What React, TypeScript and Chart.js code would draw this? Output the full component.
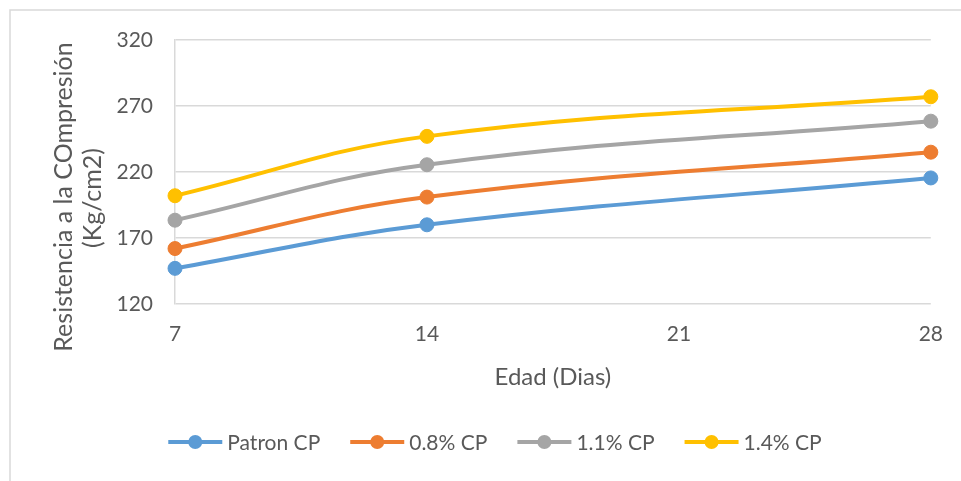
import React, { useEffect, useRef } from "react";
import { Chart, registerables } from "chart.js";

Chart.register(...registerables);

// Age of the specimens (days) and compressive strength per mix
const days = [7, 14, 28];
const patronCP = [147, 180, 215.5];
const cp08 = [162, 201, 235];
const cp11 = [183.5, 225.5, 258.5];
const cp14 = [202, 247, 277];

const seriesNames = ["Patron CP", "0.8% CP", "1.1% CP", "1.4% CP"];
const seriesColors = ["#5B9BD5", "#ED7D31", "#A5A5A5", "#FFC000"];
const seriesValues = [patronCP, cp08, cp11, cp14];

const xTitle = "Edad (Dias)";
const yTitleLines = ["Resistencia a la COmpresión", "(Kg/cm2)"];

const FONT = "Lato, 'Open Sans', sans-serif";
const TEXT = "#595959";
const GRID = "#D9D9D9";

// Frame around the chart object (top and left edges)
const framePlugin = {
  id: "frame",
  beforeDraw(chart: any) {
    const { ctx, width, height } = chart;
    ctx.save();
    ctx.fillStyle = "#ffffff";
    ctx.fillRect(0, 0, width, height);
    ctx.strokeStyle = GRID;
    ctx.lineWidth = 1.5;
    ctx.beginPath();
    ctx.moveTo(10, height);
    ctx.lineTo(10, 10);
    ctx.lineTo(width, 10);
    ctx.stroke();
    ctx.restore();
  },
};

// Two-line rotated value-axis title
const yTitlePlugin = {
  id: "yTitle",
  afterDraw(chart: any) {
    const { ctx } = chart;
    ctx.save();
    ctx.fillStyle = TEXT;
    ctx.font = `25px ${FONT}`;
    ctx.textAlign = "center";
    ctx.textBaseline = "middle";
    const pos = [
      { x: 64, y: 197 },
      { x: 93, y: 198 },
    ];
    yTitleLines.forEach((line, i) => {
      ctx.save();
      ctx.translate(pos[i].x, pos[i].y);
      ctx.rotate(-Math.PI / 2);
      ctx.fillText(line, 0, 0);
      ctx.restore();
    });
    ctx.restore();
  },
};

// Legend row: line-with-marker swatch followed by the series name
const legendPlugin = {
  id: "lineLegend",
  afterDraw(chart: any) {
    const { ctx } = chart;
    const swatch = 54;
    const gapText = 5;
    const gapItem = 30;
    const y = 442;
    ctx.save();
    ctx.font = `21px ${FONT}`;
    const items = chart.data.datasets.map((ds: any) => ({
      label: ds.label,
      color: ds.borderColor,
      w: ctx.measureText(ds.label).width,
    }));
    const total =
      items.reduce((s: number, it: any) => s + swatch + gapText + it.w, 0) +
      gapItem * (items.length - 1);
    let x = 495 - total / 2;
    items.forEach((it: any) => {
      ctx.strokeStyle = it.color;
      ctx.lineWidth = 4;
      ctx.beginPath();
      ctx.moveTo(x, y);
      ctx.lineTo(x + swatch, y);
      ctx.stroke();
      ctx.fillStyle = it.color;
      ctx.beginPath();
      ctx.arc(x + swatch / 2, y, 7, 0, Math.PI * 2);
      ctx.fill();
      ctx.fillStyle = TEXT;
      ctx.textAlign = "left";
      ctx.textBaseline = "middle";
      ctx.fillText(it.label, x + swatch + gapText, y + 1);
      x += swatch + gapText + it.w + gapItem;
    });
    ctx.restore();
  },
};

export default function App() {
  const canvasRef = useRef<HTMLCanvasElement | null>(null);

  useEffect(() => {
    document.body.style.margin = "0";
    const canvas = canvasRef.current;
    if (!canvas) return;

    const chart = new Chart(canvas, {
      type: "line",
      data: {
        datasets: seriesValues.map((vals, i) => ({
          label: seriesNames[i],
          data: days.map((d, j) => ({ x: d, y: vals[j] })),
          borderColor: seriesColors[i],
          backgroundColor: seriesColors[i],
          pointBackgroundColor: seriesColors[i],
          pointBorderColor: seriesColors[i],
          borderWidth: 4,
          pointRadius: 7,
          pointBorderWidth: 1,
          tension: 0.4,
          fill: false,
          clip: false as any,
        })),
      },
      options: {
        responsive: false,
        animation: false,
        events: [],
        layout: { padding: { left: 0, right: 30, top: 40, bottom: 77 } },
        plugins: {
          legend: { display: false },
          tooltip: { enabled: false },
        },
        scales: {
          x: {
            type: "linear",
            min: 7,
            max: 28,
            afterFit(scale: any) {
              scale.height = 100;
            },
            ticks: {
              stepSize: 7,
              color: TEXT,
              font: { family: FONT, size: 21 },
              padding: 18,
            },
            grid: { display: false, drawTicks: false },
            border: { display: false },
            title: {
              display: true,
              text: xTitle,
              color: TEXT,
              font: { family: FONT, size: 24 },
              padding: { top: 12, bottom: 12 },
            },
          },
          y: {
            min: 120,
            max: 320,
            afterFit(scale: any) {
              scale.width = 175;
            },
            ticks: {
              stepSize: 50,
              color: TEXT,
              font: { family: FONT, size: 21 },
              padding: 22,
            },
            grid: { color: GRID, lineWidth: 1.5, drawTicks: false },
            border: { display: true, color: GRID, width: 1.5 },
          },
        },
      },
      plugins: [framePlugin, yTitlePlugin, legendPlugin],
    });

    return () => chart.destroy();
  }, []);

  return (
    <div style={{ width: 961, height: 481 }}>
      <canvas ref={canvasRef} width={961} height={481} style={{ display: "block" }} />
    </div>
  );
}
